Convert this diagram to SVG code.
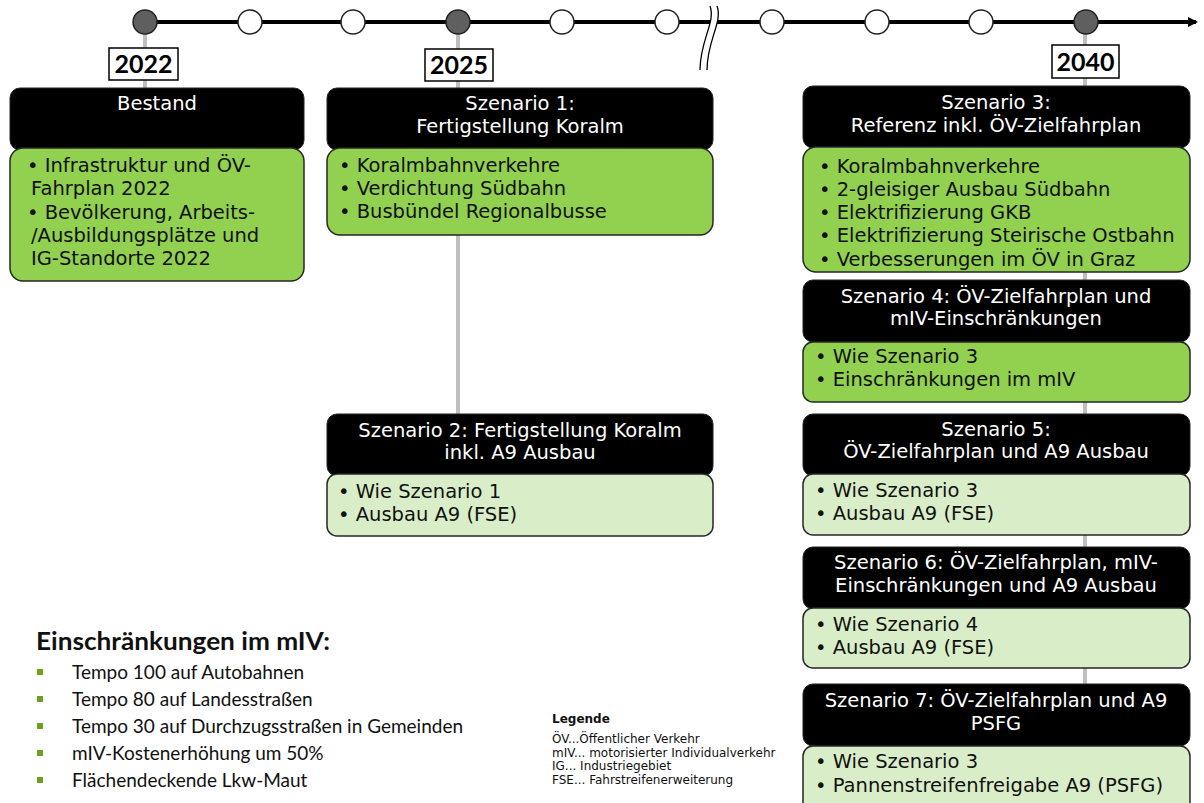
<svg xmlns="http://www.w3.org/2000/svg" width="1204" height="803" viewBox="0 0 1204 803">
<defs>
<style>
.hd{fill:#000;stroke:#222;stroke-width:1}
.bg{fill:#92d050;stroke:#262626;stroke-width:1.5}
.bl{fill:#d9eec8;stroke:#262626;stroke-width:1.5}
.ht{font-family:"DejaVu Sans",Verdana,sans-serif;font-size:19.5px;fill:#fff;text-anchor:middle}
.bt{font-family:"DejaVu Sans",Verdana,sans-serif;font-size:19.5px;fill:#111}
.yr{font-family:Lato,"Liberation Sans",sans-serif;font-weight:bold;font-size:25px;fill:#000;text-anchor:middle}
.yb{fill:#fff;stroke:#000;stroke-width:1.5}
.cn{stroke:#bfbfbf;stroke-width:4;fill:none}
.dot{fill:#5f5f5f;stroke:#222;stroke-width:1.5}
.emp{fill:#fff;stroke:#222;stroke-width:1.5}
.lt{font-family:Lato,"Liberation Sans",sans-serif;font-size:19px;fill:#111}
.lg{font-family:"DejaVu Sans",Verdana,sans-serif;font-size:12px;fill:#111}
</style>
<marker id="arr" markerWidth="10" markerHeight="10" refX="8" refY="5" orient="auto" markerUnits="userSpaceOnUse">
<path d="M0,0 L10,5 L0,10 Z" fill="#000"/>
</marker>
</defs>
<rect width="1204" height="803" fill="#fff"/>

<g id="connectors">
<line class="cn" x1="145" y1="22" x2="145" y2="90"/>
<line class="cn" x1="458" y1="22" x2="458" y2="416"/>
<line class="cn" x1="1085" y1="22" x2="1085" y2="750"/>
<line x1="145" y1="22" x2="1196" y2="22" stroke="#000" stroke-width="4" marker-end="url(#arr)"/>
</g>

<g id="timeline">
<path d="M710 6 C716 22, 700 40, 700 70 L707 70 C707 40, 723 22, 717 6 Z" fill="#fff"/>
<path d="M710 6 C716 22, 700 40, 700 70" fill="none" stroke="#000" stroke-width="1.3"/>
<path d="M717 6 C723 22, 707 40, 707 70" fill="none" stroke="#000" stroke-width="1.3"/>
<circle class="dot" cx="145" cy="22" r="12"/>
<circle class="emp" cx="250" cy="22" r="12"/>
<circle class="emp" cx="353" cy="22" r="12"/>
<circle class="dot" cx="458" cy="22" r="12"/>
<circle class="emp" cx="562" cy="22" r="12"/>
<circle class="emp" cx="667" cy="22" r="12"/>
<circle class="emp" cx="772" cy="22" r="12"/>
<circle class="emp" cx="877" cy="22" r="12"/>
<circle class="emp" cx="981" cy="22" r="12"/>
<circle class="dot" cx="1086" cy="22" r="12"/>
</g>

<g id="year2022"><rect class="yb" x="109" y="48" width="69" height="32"/><text class="yr" x="143.5" y="73">2022</text></g>
<g id="year2025"><rect class="yb" x="425" y="49" width="68" height="32"/><text class="yr" x="459" y="74">2025</text></g>
<g id="year2040"><rect class="yb" x="1052" y="45" width="67" height="33"/><text class="yr" x="1085.5" y="71">2040</text></g>

<g id="bestand">
<rect class="hd" x="10" y="88" width="294" height="62" rx="10"/>
<rect class="bg" x="10" y="148" width="294" height="133" rx="13"/>
<text class="ht" x="157" y="110">Bestand</text>
<text class="bt" x="27" y="172">• Infrastruktur und ÖV-</text>
<text class="bt" x="31" y="195">Fahrplan 2022</text>
<text class="bt" x="27" y="219">• Bevölkerung, Arbeits-</text>
<text class="bt" x="31" y="242">/Ausbildungsplätze und</text>
<text class="bt" x="31" y="265">IG-Standorte 2022</text>
</g>

<g id="szenario1">
<rect class="hd" x="327" y="88" width="386" height="62" rx="10"/>
<rect class="bg" x="327" y="148" width="386" height="87" rx="13"/>
<text class="ht" x="520" y="110">Szenario 1:</text>
<text class="ht" x="520" y="133">Fertigstellung Koralm</text>
<text class="bt" x="339" y="172">• Koralmbahnverkehre</text>
<text class="bt" x="339" y="195">• Verdichtung Südbahn</text>
<text class="bt" x="339" y="218">• Busbündel Regionalbusse</text>
</g>

<g id="szenario2">
<rect class="hd" x="327" y="414" width="386" height="62" rx="10"/>
<rect class="bl" x="327" y="474" width="386" height="62" rx="10"/>
<text class="ht" x="520" y="437">Szenario 2: Fertigstellung Koralm</text>
<text class="ht" x="520" y="459">inkl. A9 Ausbau</text>
<text class="bt" x="338" y="498">• Wie Szenario 1</text>
<text class="bt" x="338" y="521">• Ausbau A9 (FSE)</text>
</g>

<g id="szenario3">
<rect class="hd" x="803" y="86" width="387" height="62" rx="10"/>
<rect class="bg" x="803" y="147" width="387" height="125" rx="13"/>
<text class="ht" x="996" y="109">Szenario 3:</text>
<text class="ht" x="996" y="132">Referenz inkl. ÖV-Zielfahrplan</text>
<text class="bt" x="819" y="173">• Koralmbahnverkehre</text>
<text class="bt" x="819" y="196">• 2-gleisiger Ausbau Südbahn</text>
<text class="bt" x="819" y="219">• Elektrifizierung GKB</text>
<text class="bt" x="819" y="242">• Elektrifizierung Steirische Ostbahn</text>
<text class="bt" x="819" y="266">• Verbesserungen im ÖV in Graz</text>
</g>

<g id="szenario4">
<rect class="hd" x="803" y="280" width="387" height="62" rx="10"/>
<rect class="bg" x="803" y="342" width="387" height="60" rx="10"/>
<text class="ht" x="996" y="303">Szenario 4: ÖV-Zielfahrplan und</text>
<text class="ht" x="996" y="325">mIV-Einschränkungen</text>
<text class="bt" x="815" y="363">• Wie Szenario 3</text>
<text class="bt" x="815" y="386">• Einschränkungen im mIV</text>
</g>

<g id="szenario5">
<rect class="hd" x="803" y="414" width="387" height="62" rx="10"/>
<rect class="bl" x="803" y="474" width="387" height="61" rx="10"/>
<text class="ht" x="996" y="436">Szenario 5:</text>
<text class="ht" x="996" y="458">ÖV-Zielfahrplan und A9 Ausbau</text>
<text class="bt" x="815" y="497">• Wie Szenario 3</text>
<text class="bt" x="815" y="520">• Ausbau A9 (FSE)</text>
</g>

<g id="szenario6">
<rect class="hd" x="803" y="547" width="387" height="62" rx="10"/>
<rect class="bl" x="803" y="608" width="387" height="60" rx="10"/>
<text class="ht" x="996" y="569">Szenario 6: ÖV-Zielfahrplan, mIV-</text>
<text class="ht" x="996" y="592">Einschränkungen und A9 Ausbau</text>
<text class="bt" x="815" y="631">• Wie Szenario 4</text>
<text class="bt" x="815" y="654">• Ausbau A9 (FSE)</text>
</g>

<g id="szenario7">
<rect class="hd" x="803" y="684" width="387" height="62" rx="10"/>
<rect class="bl" x="803" y="746" width="387" height="70" rx="10"/>
<text class="ht" x="996" y="707">Szenario 7: ÖV-Zielfahrplan und A9</text>
<text class="ht" x="996" y="730">PSFG</text>
<text class="bt" x="815" y="768">• Wie Szenario 3</text>
<text class="bt" x="815" y="792">• Pannenstreifenfreigabe A9 (PSFG)</text>
</g>

<g id="einschraenkungen">
<text x="36" y="650" font-family="Lato,'Liberation Sans',sans-serif" font-weight="bold" font-size="25" fill="#111" textLength="294" lengthAdjust="spacingAndGlyphs">Einschränkungen im mIV:</text>
<rect x="37" y="669" width="6" height="6" fill="#6aa121"/>
<rect x="37" y="696" width="6" height="6" fill="#6aa121"/>
<rect x="37" y="723" width="6" height="6" fill="#6aa121"/>
<rect x="37" y="750" width="6" height="6" fill="#6aa121"/>
<rect x="37" y="777" width="6" height="6" fill="#6aa121"/>
<text class="lt" x="72" y="679">Tempo 100 auf Autobahnen</text>
<text class="lt" x="72" y="706">Tempo 80 auf Landesstraßen</text>
<text class="lt" x="72" y="733">Tempo 30 auf Durchzugsstraßen in Gemeinden</text>
<text class="lt" x="72" y="760">mIV-Kostenerhöhung um 50%</text>
<text class="lt" x="72" y="787">Flächendeckende Lkw-Maut</text>
</g>

<g id="legende">
<text class="lg" x="552" y="723" font-weight="bold">Legende</text>
<text class="lg" x="552" y="743">ÖV...Öffentlicher Verkehr</text>
<text class="lg" x="552" y="756.5">mIV... motorisierter Individualverkehr</text>
<text class="lg" x="552" y="770">IG... Industriegebiet</text>
<text class="lg" x="552" y="783.5">FSE... Fahrstreifenerweiterung</text>
</g>
</svg>
